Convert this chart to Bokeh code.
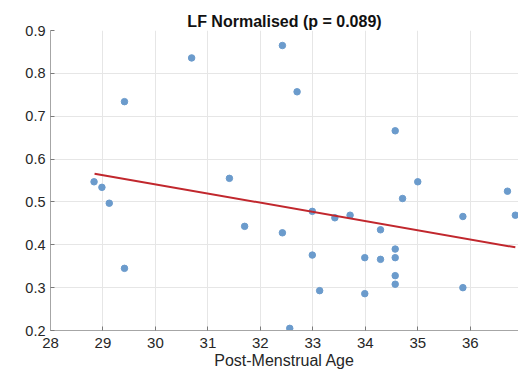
from bokeh.plotting import figure
from bokeh.models import Range1d, FixedTicker
from bokeh.embed import file_html
from bokeh.resources import INLINE

# Post-menstrual age (weeks) and normalised LF power per recording
pma = [28.83, 28.98, 29.12, 29.41, 29.41, 30.69, 31.41, 31.70,
       32.42, 32.42, 32.56, 32.70, 32.99, 32.99, 33.13, 33.42,
       33.71, 33.99, 33.99, 34.29, 34.29, 34.57, 34.57, 34.57,
       34.57, 34.57, 34.71, 35.00, 35.86, 35.86, 36.71, 36.86]
lf_norm = [0.547, 0.534, 0.497, 0.734, 0.345, 0.836, 0.555, 0.443,
           0.865, 0.428, 0.205, 0.757, 0.478, 0.376, 0.293, 0.463,
           0.469, 0.370, 0.286, 0.435, 0.366, 0.666, 0.390, 0.370,
           0.328, 0.308, 0.508, 0.547, 0.466, 0.300, 0.525, 0.469]

# Linear trend across the age span
fit_x = [28.84, 36.86]
fit_y = [0.566, 0.394]

x_ticks = [28, 29, 30, 31, 32, 33, 34, 35, 36, 37]
y_ticks = [0.2, 0.3, 0.4, 0.5, 0.6, 0.7, 0.8, 0.9]

FONT = "Liberation Sans"
TXT = "#262626"

p = figure(width=518, height=371, output_backend="svg", toolbar_location=None,
           x_range=Range1d(28, 36.92), y_range=Range1d(0.2, 0.9),
           min_border_left=50, min_border_right=0, min_border_top=30,
           min_border_bottom=41, title="LF Normalised (p = 0.089)")

p.title.align = "center"
p.title.text_font = FONT
p.title.text_font_size = "16px"
p.title.text_font_style = "bold"
p.title.text_color = "#111111"
p.title.offset = 0
p.title.standoff = 2

p.outline_line_color = None
p.background_fill_color = "white"

for ax in (p.xaxis[0], p.yaxis[0]):
    ax.axis_line_color = "#a6a6a6"
    ax.axis_line_width = 1
    ax.major_tick_line_color = "#7a7a7a"
    ax.major_tick_in = 4
    ax.major_tick_out = 0
    ax.minor_tick_line_color = None
    ax.major_label_text_font = FONT
    ax.major_label_text_color = TXT

p.xaxis.major_label_text_font_size = "15px"
p.yaxis.major_label_text_font_size = "14.5px"
p.xaxis.ticker = FixedTicker(ticks=x_ticks)
p.yaxis.ticker = FixedTicker(ticks=y_ticks)
p.xaxis.major_label_standoff = 7
p.yaxis.major_label_standoff = 5
p.xaxis.axis_label = "Post-Menstrual Age"
p.xaxis.axis_label_text_font = FONT
p.xaxis.axis_label_text_font_size = "16px"
p.xaxis.axis_label_text_font_style = "normal"
p.xaxis.axis_label_text_color = TXT
p.xaxis.axis_label_standoff = 1

p.grid.grid_line_color = "#e6e6e6"
p.grid.grid_line_width = 1

p.scatter(pma, lf_norm, size=6.5, fill_color="#6b9bcc", line_color="#6b9bcc")
p.line(fit_x, fit_y, line_color="#c1272d", line_width=2)

open("out.html", "w").write(file_html(p, INLINE))
